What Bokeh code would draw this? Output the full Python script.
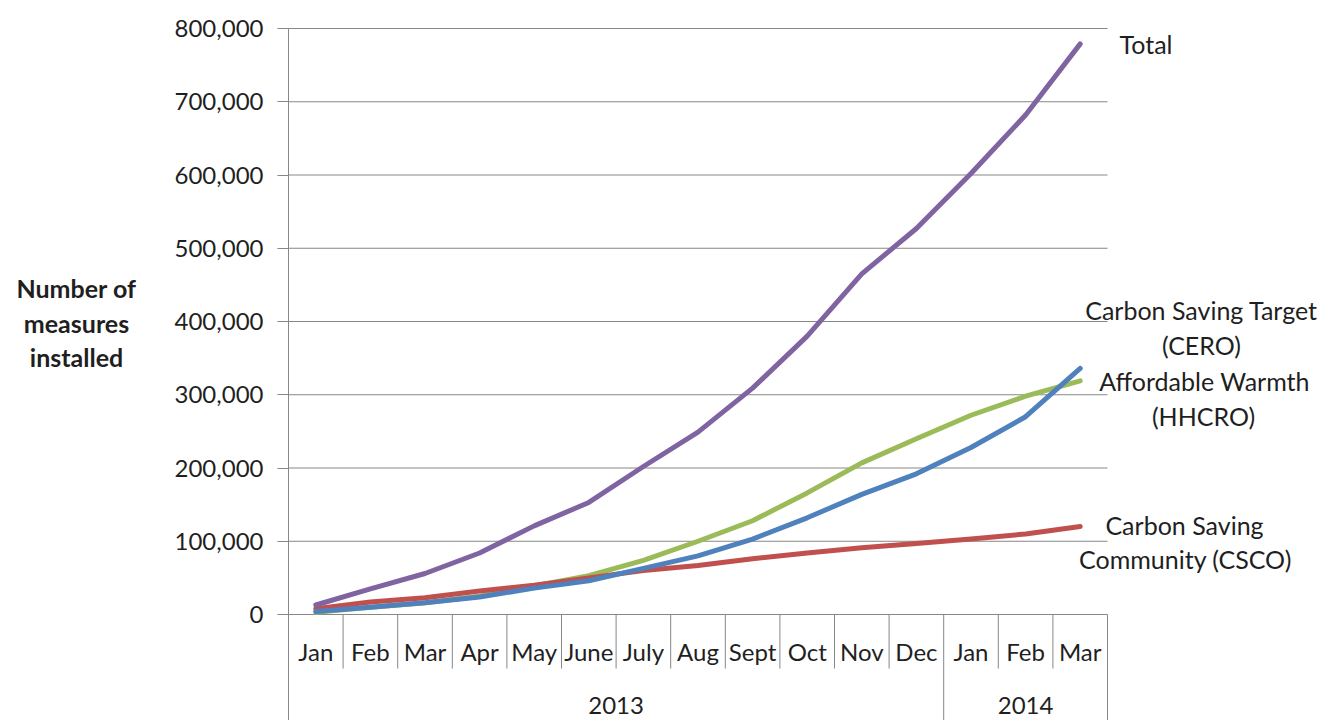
from bokeh.plotting import figure
from bokeh.layouts import row
from bokeh.models import Range1d, FixedTicker, NumeralTickFormatter
from bokeh.core.properties import value
from bokeh.embed import file_html
from bokeh.resources import INLINE

months = ["Jan", "Feb", "Mar", "Apr", "May", "June", "July", "Aug", "Sept", "Oct", "Nov", "Dec", "Jan", "Feb", "Mar"]
years = ["2013", "2014"]
year_spans = [12, 3]
total = [13000, 35000, 56000, 84000, 121000, 153000, 202000, 249000, 309000, 380000, 465000, 527000, 602000, 682000, 779000]
cero = [4000, 10000, 16000, 24000, 36000, 46000, 63000, 80000, 103000, 132000, 164000, 192000, 228000, 270000, 336000]
hhcro = [3000, 10000, 16000, 25000, 39000, 53000, 74000, 100000, 128000, 166000, 207000, 240000, 272000, 298000, 319000]
csco = [8000, 17000, 23000, 32000, 40000, 50000, 60000, 67000, 76000, 84000, 91000, 97000, 103000, 110000, 120000]
y_ticks = [0, 100000, 200000, 300000, 400000, 500000, 600000, 700000, 800000]
y_title = ["Number of", "measures", "installed"]

FONT = "Lato"
TXT = "#1f1f1f"
GRID = "#878787"

W, H = 1326, 720
LEFT_W = 160
n = len(months)
frame_left_page = 288
px_per_cat = 54.6
px_per_unit_y = 73.25 / 100000.0
zero_py = 614

RW = W - LEFT_W
x_end = (W - frame_left_page) / px_per_cat
y_start = -(H - zero_py) / px_per_unit_y
y_end = zero_py / px_per_unit_y

# left panel holding the y-axis title
pl = figure(width=LEFT_W, height=H, output_backend="svg", toolbar_location=None,
            x_range=Range1d(0, LEFT_W), y_range=Range1d(H, 0),
            x_axis_location=None, y_axis_location=None,
            min_border_left=0, min_border_right=0, min_border_top=0, min_border_bottom=0)
pl.outline_line_color = None
pl.xgrid.visible = False
pl.ygrid.visible = False
pl.text(x=[76, 76, 76], y=[287, 322, 356], text=y_title, text_align="center", text_baseline="middle",
        text_font=value(FONT), text_font_size="25px", text_font_style="bold", text_color=TXT)

p = figure(width=RW, height=H, output_backend="svg", toolbar_location=None,
           x_range=Range1d(0, x_end), y_range=Range1d(y_start, y_end),
           x_axis_location=None, min_border_left=frame_left_page - LEFT_W, min_border_right=0,
           min_border_top=0, min_border_bottom=0)
p.outline_line_color = None
p.xgrid.visible = False
p.ygrid.visible = False

yax = p.yaxis[0]
yax.ticker = FixedTicker(ticks=y_ticks)
yax.formatter = NumeralTickFormatter(format="0,0")
yax.bounds = (y_start, y_ticks[-1])
yax.axis_line_color = GRID
yax.major_tick_line_color = GRID
yax.major_tick_out = 11
yax.major_tick_in = 0
yax.minor_tick_line_color = None
yax.major_label_standoff = 14
yax.major_label_text_font = FONT
yax.major_label_text_font_size = "24px"
yax.major_label_text_color = TXT

# horizontal gridlines over the category span
p.segment(x0=[0] * len(y_ticks), x1=[n] * len(y_ticks), y0=y_ticks, y1=y_ticks, line_color=GRID, line_width=1)

# category separators below the zero line
short_y = -54 / px_per_unit_y
long_pos = [0]
cum = 0
for s in year_spans:
    cum += s
    long_pos.append(cum)
xs = list(range(1, n + 1))
p.segment(x0=xs, x1=xs, y0=[0] * n, y1=[y_start if i in long_pos else short_y for i in xs],
          line_color=GRID, line_width=1)

xc = [i + 0.5 for i in range(n)]
p.text(x=xc, y=[-37 / px_per_unit_y] * n, text=months, text_align="center", text_baseline="middle",
       text_font=value(FONT), text_font_size="24px", text_color=TXT)
yx = []
start = 0
for s in year_spans:
    yx.append(start + s / 2)
    start += s
p.text(x=yx, y=[-91 / px_per_unit_y] * len(years), text=years, text_align="center", text_baseline="middle",
       text_font=value(FONT), text_font_size="24px", text_color=TXT)

lw = 5
p.line(xc, hhcro, line_color="#9BBB59", line_width=lw, line_join="round", line_cap="round")
p.line(xc, csco, line_color="#C0504D", line_width=lw, line_join="round", line_cap="round")
p.line(xc, cero, line_color="#4F81BD", line_width=lw, line_join="round", line_cap="round")
p.line(xc, total, line_color="#8064A2", line_width=lw, line_join="round", line_cap="round")

def px_to_x(px):
    return (px - frame_left_page) / px_per_cat

def py_to_y(py):
    return (zero_py - py) / px_per_unit_y

series_labels = [
    ("Total", 1119, 43, "left"),
    ("Carbon Saving Target", 1201, 309, "center"),
    ("(CERO)", 1201, 344, "center"),
    ("Affordable Warmth", 1204, 380, "center"),
    ("(HHCRO)", 1203, 415, "center"),
    ("Carbon Saving", 1184, 524, "center"),
    ("Community (CSCO)", 1185, 558, "center"),
]
for t, px, py, al in series_labels:
    p.text(x=[px_to_x(px)], y=[py_to_y(py)], text=[t], text_align=al, text_baseline="middle",
           text_font=value(FONT), text_font_size="25px", text_color=TXT)

layout = row(pl, p, spacing=0)
open("out.html", "w").write(file_html(layout, INLINE))
